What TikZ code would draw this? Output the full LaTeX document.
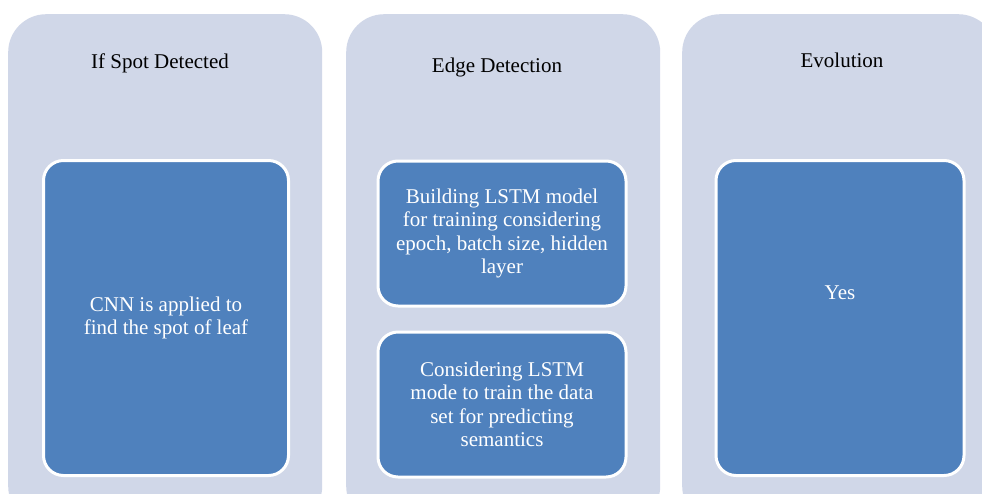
\documentclass[tikz,border=0pt]{standalone}
\usepackage{fontspec}
\setmainfont{Liberation Serif}
\usepackage{tikz}
\usetikzlibrary{positioning}
\definecolor{panelbg}{RGB}{208,215,232}
\definecolor{taskblue}{RGB}{79,129,189}

\begin{document}
\begin{tikzpicture}[
    x=1pt, y=-1pt,
    font=\fontsize{21}{23.5}\selectfont,
    panel/.style={rectangle, rounded corners=38pt, fill=panelbg, draw=none, minimum width=314pt, minimum height=510pt, anchor=north west},
    task/.style={rectangle, rounded corners=20pt, fill=taskblue, draw=white, line width=3pt, text=white, align=center, minimum width=245pt},
    title/.style={text=black, inner sep=0pt}
]
    \useasboundingbox (0,0) rectangle (982,493);
    \clip (0,0) rectangle (982,493);
    \fill[white] (0,0) rectangle (982,493);

    % --- Background panels ---
    \node[panel] (pSpot) at (8,14) {};
    \node[panel] (pEdge) at (346,14) {};
    \node[panel] (pEvo)  at (682,14) {};

    % --- Titles ---
    \node[title] (tSpot) at (160,63) {If Spot Detected};
    \node[title] (tEdge) at (497,67) {Edge Detection};
    \node[title] (tEvo)  at (842,60) {Evolution};

    % --- Left: spot detection ---
    \node[task, minimum height=315pt] (cnn) at (166,318) {CNN is applied to\\ find the spot of leaf};

    % --- Middle: LSTM steps ---
    \node[task, minimum height=145pt, minimum width=248pt] (build) at (502,233.5) {Building LSTM model\\ for training considering\\ epoch, batch size, hidden\\ layer};
    \node[task, minimum height=145pt, minimum width=248pt, below=23pt of build] (train) {Considering LSTM\\ mode to train the data\\ set for predicting\\ semantics};

    % --- Right: result ---
    \node[task, minimum height=315pt, minimum width=248pt, text height=15pt, text depth=53pt] (yes) at (840,318) {Yes};

\end{tikzpicture}
\end{document}
